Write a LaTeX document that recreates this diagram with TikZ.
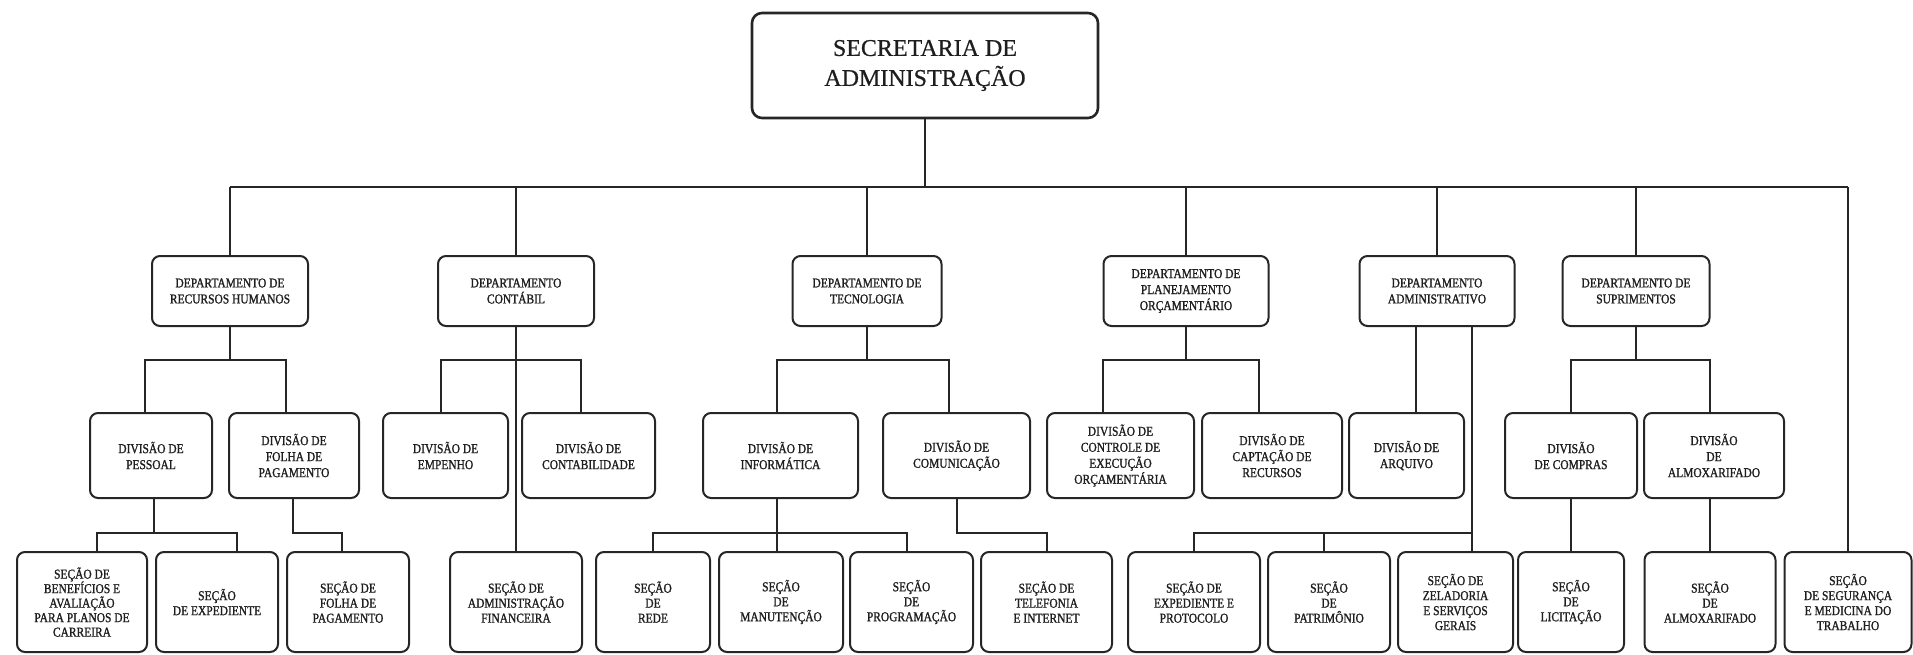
\documentclass[tikz,border=0pt]{standalone}
\usepackage{fontspec}
\setmainfont{Liberation Serif}[FakeBold=0.6]
\newfontfamily\boxfont{Liberation Serif}[FakeStretch=0.85,FakeBold=1.2]
\definecolor{linec}{RGB}{38,38,38}
\definecolor{textc}{RGB}{30,30,30}
\tikzset{
  orgbox/.style={draw=linec, line width=2pt, rounded corners=8pt, align=center,
    inner sep=0pt, text=textc, font=\boxfont\fontsize{13.5}{16}\selectfont},
  deptbox/.style={orgbox, minimum height=70pt},
  divbox/.style={orgbox, minimum height=85pt},
  secbox/.style={orgbox, minimum height=100pt, font=\boxfont\fontsize{13.5}{15}\selectfont},
  topbox/.style={draw=linec, line width=2.6pt, rounded corners=10pt, align=center,
    inner sep=0pt, text=textc, minimum width=346pt, minimum height=105pt,
    font=\fontsize{24}{30}\selectfont},
  conn/.style={draw=linec, line width=2pt},
}
\begin{document}
\begin{tikzpicture}[x=1pt,y=1pt]
\useasboundingbox (0,0) rectangle (1913,-654);
\fill[white] (0,0) rectangle (1913,-654);
\coordinate (y1) at (0,-187);
\coordinate (y2) at (0,-360);
\coordinate (y3) at (0,-533);

% top
\node[topbox] (top) at (925,-65.5) {SECRETARIA DE\\ADMINISTRAÇÃO};

% departments
\node[deptbox, minimum width=156pt] (rh)   at (230,-291)  {DEPARTAMENTO DE\\RECURSOS HUMANOS};
\node[deptbox, minimum width=156pt] (cont) at (516,-291)  {DEPARTAMENTO\\CONTÁBIL};
\node[deptbox, minimum width=149pt] (tec)  at (867,-291)  {DEPARTAMENTO DE\\TECNOLOGIA};
\node[deptbox, minimum width=165pt] (plan) at (1186,-291) {DEPARTAMENTO DE\\PLANEJAMENTO\\ORÇAMENTÁRIO};
\node[deptbox, minimum width=155pt] (adm)  at (1437,-291) {DEPARTAMENTO\\ADMINISTRATIVO};
\node[deptbox, minimum width=147pt] (sup)  at (1636,-291) {DEPARTAMENTO DE\\SUPRIMENTOS};

% divisions
\node[divbox, minimum width=122pt] (pes)  at (151,-455.5)   {DIVISÃO DE\\PESSOAL};
\node[divbox, minimum width=130pt] (fold) at (294,-455.5)   {DIVISÃO DE\\FOLHA DE\\PAGAMENTO};
\node[divbox, minimum width=125pt] (emp)  at (445.5,-455.5) {DIVISÃO DE\\EMPENHO};
\node[divbox, minimum width=133pt] (ctb)  at (588.5,-455.5) {DIVISÃO DE\\CONTABILIDADE};
\node[divbox, minimum width=155pt] (inf)  at (780.5,-455.5) {DIVISÃO DE\\INFORMÁTICA};
\node[divbox, minimum width=147pt] (com)  at (956.5,-455.5) {DIVISÃO DE\\COMUNICAÇÃO};
\node[divbox, minimum width=147pt] (ctl)  at (1120.5,-455.5) {DIVISÃO DE\\CONTROLE DE\\EXECUÇÃO\\ORÇAMENTÁRIA};
\node[divbox, minimum width=140pt] (cap)  at (1272,-455.5)  {DIVISÃO DE\\CAPTAÇÃO DE\\RECURSOS};
\node[divbox, minimum width=115pt] (arq)  at (1406.5,-455.5) {DIVISÃO DE\\ARQUIVO};
\node[divbox, minimum width=132pt] (cmp)  at (1571,-455.5)  {DIVISÃO\\DE COMPRAS};
\node[divbox, minimum width=140pt] (almd) at (1714,-455.5)  {DIVISÃO\\DE\\ALMOXARIFADO};

% sections
\node[secbox, minimum width=130pt, font=\boxfont\fontsize{13.5}{14.5}\selectfont] (ben) at (82,-602) {SEÇÃO DE\\BENEFÍCIOS E\\AVALIAÇÃO\\PARA PLANOS DE\\CARREIRA};
\node[secbox, minimum width=122pt] (exp)    at (217,-602)    {SEÇÃO\\DE EXPEDIENTE};
\node[secbox, minimum width=122pt] (fols)   at (348,-602)    {SEÇÃO DE\\FOLHA DE\\PAGAMENTO};
\node[secbox, minimum width=132pt] (adf)    at (516,-602)    {SEÇÃO DE\\ADMINISTRAÇÃO\\FINANCEIRA};
\node[secbox, minimum width=114pt] (rede)   at (653,-602)    {SEÇÃO\\DE\\REDE};
\node[secbox, minimum width=124pt] (man)    at (781,-602)    {SEÇÃO\\DE\\MANUTENÇÃO};
\node[secbox, minimum width=123pt] (prog)   at (911.5,-602)  {SEÇÃO\\DE\\PROGRAMAÇÃO};
\node[secbox, minimum width=131pt] (tel)    at (1046.5,-602) {SEÇÃO DE\\TELEFONIA\\E INTERNET};
\node[secbox, minimum width=132pt] (exprot) at (1194,-602)   {SEÇÃO DE\\EXPEDIENTE E\\PROTOCOLO};
\node[secbox, minimum width=122pt] (pat)    at (1329,-602)   {SEÇÃO\\DE\\PATRIMÔNIO};
\node[secbox, minimum width=115pt] (zel)    at (1455.5,-602) {SEÇÃO DE\\ZELADORIA\\E SERVIÇOS\\GERAIS};
\node[secbox, minimum width=106pt] (lic)    at (1571,-602)   {SEÇÃO\\DE\\LICITAÇÃO};
\node[secbox, minimum width=131pt] (alms)   at (1710,-602)   {SEÇÃO\\DE\\ALMOXARIFADO};
\node[secbox, minimum width=127pt] (seg)    at (1848,-602)   {SEÇÃO\\DE SEGURANÇA\\E MEDICINA DO\\TRABALHO};

% level 1 connectors
\draw[conn] (top.south) -- (top.south |- y1);
\draw[conn] (rh.north |- y1) -- (seg.north |- y1);
\foreach \n in {rh,cont,tec,plan,adm,sup,seg}
  \draw[conn] (\n.north |- y1) -- (\n.north);

% RH
\draw[conn] (rh.south) -- (rh.south |- y2);
\draw[conn] ([xshift=-6pt]pes.north) -- ([xshift=-6pt]pes.north |- y2) -- ([xshift=-8pt]fold.north |- y2) -- ([xshift=-8pt]fold.north);
\draw[conn] ([xshift=3pt]pes.south) -- ([xshift=3pt]pes.south |- y3);
\draw[conn] ([xshift=15pt]ben.north) -- ([xshift=15pt]ben.north |- y3) -- ([xshift=20pt]exp.north |- y3) -- ([xshift=20pt]exp.north);
\draw[conn] ([xshift=-1pt]fold.south) -- ([xshift=-1pt]fold.south |- y3) -- ([xshift=-6pt]fols.north |- y3) -- ([xshift=-6pt]fols.north);

% Contabil
\draw[conn] (cont.south) -- (adf.north);
\draw[conn] ([xshift=-4.5pt]emp.north) -- ([xshift=-4.5pt]emp.north |- y2) -- ([xshift=-7.5pt]ctb.north |- y2) -- ([xshift=-7.5pt]ctb.north);

% Tecnologia
\draw[conn] (tec.south) -- (tec.south |- y2);
\draw[conn] ([xshift=-3.5pt]inf.north) -- ([xshift=-3.5pt]inf.north |- y2) -- ([xshift=-7.5pt]com.north |- y2) -- ([xshift=-7.5pt]com.north);
\draw[conn] ([xshift=-3.5pt]inf.south) -- ([xshift=-4pt]man.north);
\draw[conn] (rede.north) -- (rede.north |- y3) -- ([xshift=-4.5pt]prog.north |- y3) -- ([xshift=-4.5pt]prog.north);
\draw[conn] (com.south) -- (com.south |- y3) -- (tel.north |- y3) -- (tel.north);

% Planejamento
\draw[conn] (plan.south) -- (plan.south |- y2);
\draw[conn] ([xshift=-17.5pt]ctl.north) -- ([xshift=-17.5pt]ctl.north |- y2) -- ([xshift=-13pt]cap.north |- y2) -- ([xshift=-13pt]cap.north);

% Administrativo
\draw[conn] ([xshift=9.5pt]arq.north) -- ([xshift=9.5pt]arq.north |- adm.south);
\draw[conn] ([xshift=16.5pt]zel.north) -- ([xshift=16.5pt]zel.north |- adm.south);
\draw[conn] (exprot.north) -- (exprot.north |- y3) -- ([xshift=16.5pt]zel.north |- y3);
\draw[conn] ([xshift=-5pt]pat.north) -- ([xshift=-5pt]pat.north |- y3);

% Suprimentos
\draw[conn] (sup.south) -- (sup.south |- y2);
\draw[conn] (cmp.north) -- (cmp.north |- y2) -- ([xshift=-4pt]almd.north |- y2) -- ([xshift=-4pt]almd.north);
\draw[conn] (cmp.south) -- (lic.north);
\draw[conn] ([xshift=-4pt]almd.south) -- (alms.north);
\end{tikzpicture}
\end{document}
